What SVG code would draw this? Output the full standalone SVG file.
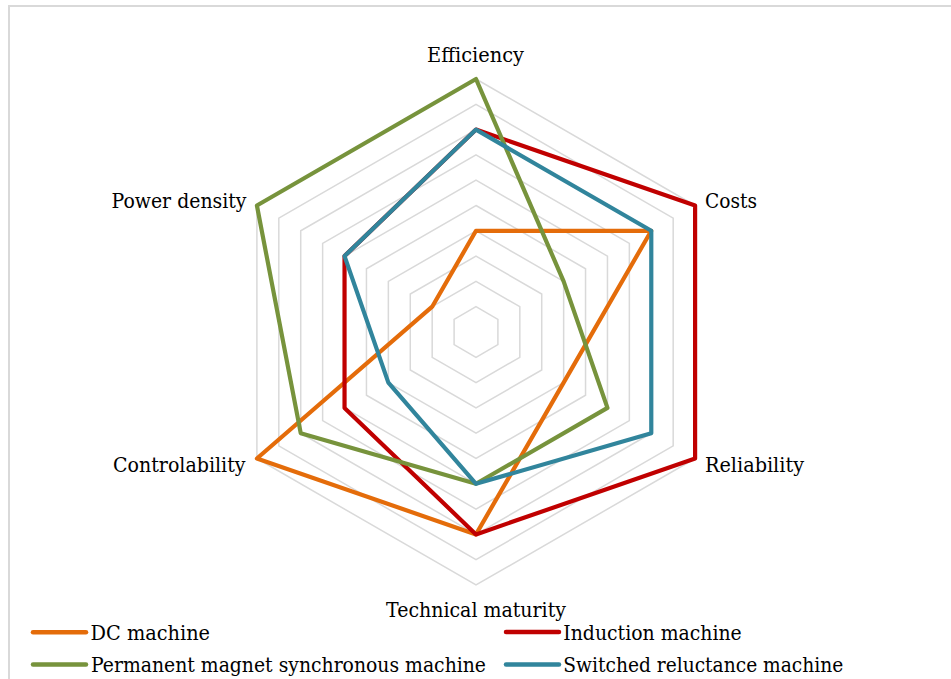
<svg xmlns="http://www.w3.org/2000/svg" width="951" height="679" viewBox="0 0 951 679">
<style>
.grid{fill:none;stroke:#D9D9D9;stroke-width:1.5}
.s{fill:none;stroke-width:4.2;stroke-linejoin:round}
.lg{stroke-width:4.5;stroke-linecap:round}
text{font-family:'DejaVu Serif','Liberation Serif',serif;font-size:21px;fill:#000}
.orange{stroke:#E46C0A}
.red{stroke:#C00000}
.green{stroke:#77933C}
.blue{stroke:#31859C}
</style>
<rect x="0" y="0" width="951" height="679" fill="#fff"/>
<path d="M9,679 V6 H951" fill="none" stroke="#D9D9D9" stroke-width="2"/>
<g id="grid">
<polygon class="grid" points="476,306.7 497.9,319.35 497.9,344.65 476,357.3 454.1,344.65 454.1,319.35"/>
<polygon class="grid" points="476,281.4 519.82,306.7 519.82,357.3 476,382.6 432.18,357.3 432.18,306.7"/>
<polygon class="grid" points="476,256.1 541.73,294.05 541.73,369.95 476,407.9 410.27,369.95 410.27,294.05"/>
<polygon class="grid" points="476,230.8 563.64,281.4 563.64,382.6 476,433.2 388.36,382.6 388.36,281.4"/>
<polygon class="grid" points="476,205.5 585.55,268.75 585.55,395.25 476,458.5 366.45,395.25 366.45,268.75"/>
<polygon class="grid" points="476,180.2 607.46,256.1 607.46,407.9 476,483.8 344.54,407.9 344.54,256.1"/>
<polygon class="grid" points="476,154.9 629.37,243.45 629.37,420.55 476,509.1 322.63,420.55 322.63,243.45"/>
<polygon class="grid" points="476,129.6 651.28,230.8 651.28,433.2 476,534.4 300.72,433.2 300.72,230.8"/>
<polygon class="grid" points="476,104.3 673.19,218.15 673.19,445.85 476,559.7 278.81,445.85 278.81,218.15"/>
<polygon class="grid" points="476,79 695.1,205.5 695.1,458.5 476,585 256.9,458.5 256.9,205.5"/>
</g>
<g id="series">
<polygon id="dc" class="s orange" points="476,230.8 651.28,230.8 563.64,382.6 476,534.4 256.9,458.5 432.18,306.7"/>
<polygon id="induction" class="s red" points="476,129.6 695.1,205.5 695.1,458.5 476,534.4 344.54,407.9 344.54,256.1"/>
<polygon id="pmsm" class="s green" points="476,79 563.64,281.4 607.46,407.9 476,483.8 300.72,433.2 256.9,205.5"/>
<polygon id="srm" class="s blue" points="476,129.6 651.28,230.8 651.28,433.2 476,483.8 388.36,382.6 344.54,256.1"/>
</g>
<g id="axis-labels">
<text x="427" y="61.5" textLength="97" lengthAdjust="spacingAndGlyphs">Efficiency</text>
<text x="705" y="208" textLength="52" lengthAdjust="spacingAndGlyphs">Costs</text>
<text x="705" y="471.5" textLength="99" lengthAdjust="spacingAndGlyphs">Reliability</text>
<text x="386" y="616.5" textLength="180" lengthAdjust="spacingAndGlyphs">Technical maturity</text>
<text x="113" y="471.5" textLength="132.5" lengthAdjust="spacingAndGlyphs">Controlability</text>
<text x="111.5" y="207.5" textLength="135" lengthAdjust="spacingAndGlyphs">Power density</text>
</g>
<g id="legend">
<line class="lg orange" x1="33" y1="632.3" x2="86" y2="632.3"/>
<text x="90.5" y="640" textLength="119.5" lengthAdjust="spacingAndGlyphs">DC machine</text>
<line class="lg red" x1="506" y1="632" x2="559" y2="632"/>
<text x="563.3" y="640" textLength="178.4" lengthAdjust="spacingAndGlyphs">Induction machine</text>
<line class="lg green" x1="33" y1="664.5" x2="86" y2="664.5"/>
<text x="91" y="672" textLength="395" lengthAdjust="spacingAndGlyphs">Permanent magnet synchronous machine</text>
<line class="lg blue" x1="506" y1="664.5" x2="559" y2="664.5"/>
<text x="563.3" y="672" textLength="280" lengthAdjust="spacingAndGlyphs">Switched reluctance machine</text>
</g>
</svg>
